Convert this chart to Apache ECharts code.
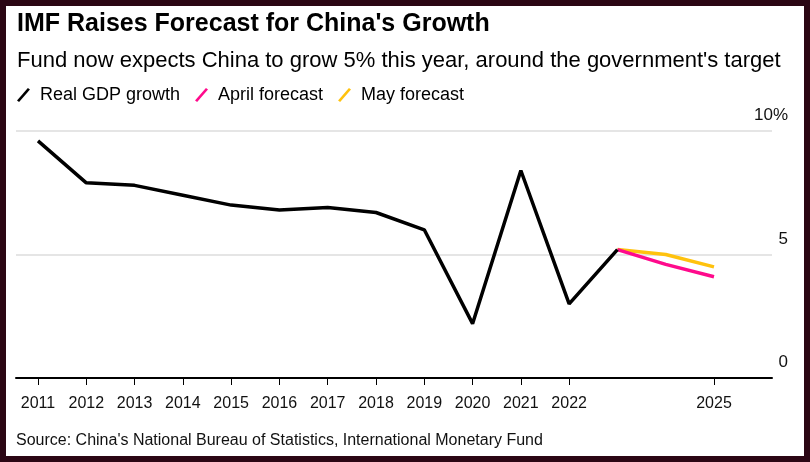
<!DOCTYPE html>
<html>
<head>
<meta charset="utf-8">
<script src="https://cdn.jsdelivr.net/npm/echarts@6/dist/echarts.min.js"></script>
<style>
  html, body { margin: 0; padding: 0; background: #fff; }
  #chart { position: absolute; left: 0; top: 0; width: 810px; height: 462px; background: #fff; }
  #frame { position: absolute; left: 0; top: 0; width: 810px; height: 462px; box-sizing: border-box;
           border: 6px solid #2b0614; pointer-events: none; }
</style>
</head>
<body>
<div id="chart"></div>
<div id="frame"></div>
<script>
    // 年份与数据
    const years = ['2011', '2012', '2013', '2014', '2015', '2016', '2017', '2018',
                   '2019', '2020', '2021', '2022', '2023', '2024', '2025'];
    const realGdp = [9.6, 7.9, 7.8, 7.4, 7.0, 6.8, 6.9, 6.7, 6.0, 2.2, 8.4, 3.0, 5.2, null, null];
    const aprilForecast = [null, null, null, null, null, null, null, null, null, null, null, null, 5.2, 4.6, 4.1];
    const mayForecast = [null, null, null, null, null, null, null, null, null, null, null, null, 5.2, 5.0, 4.5];
    const hiddenYears = ['2023', '2024'];

    const font = '"Liberation Sans", Arial, sans-serif';
    const slash = 'path://M0,12 L10.5,0 L12.5,1.5 L2,13.5 Z';

    const myChart = echarts.init(document.getElementById('chart'));

    const option = {
        backgroundColor: '#fff',
        animation: false,
        textStyle: { fontFamily: font },
        title: [
            {
                text: "IMF Raises Forecast for China's Growth",
                left: 17, top: 12, padding: 0,
                textStyle: { fontSize: 25, fontWeight: 'bold', color: '#000', fontFamily: font }
            },
            {
                text: "Fund now expects China to grow 5% this year, around the government's target",
                left: 17, top: 50, padding: 0,
                textStyle: { fontSize: 22, fontWeight: 'normal', color: '#000', fontFamily: font }
            },
            {
                text: "Source: China's National Bureau of Statistics, International Monetary Fund",
                left: 16, top: 433, padding: 0,
                textStyle: { fontSize: 16, fontWeight: 'normal', color: '#111', fontFamily: font }
            }
        ],
        legend: {
            left: 17, top: 86, padding: 0,
            itemWidth: 13, itemHeight: 14, itemGap: 15,
            textStyle: { fontSize: 18, color: '#000', fontFamily: font, padding: [0, 0, 0, 5] },
            data: [
                { name: 'Real GDP growth', icon: slash },
                { name: 'April forecast', icon: slash },
                { name: 'May forecast', icon: slash }
            ]
        },
        grid: [
            // 外框网格：横线与右侧刻度
            { left: 16, right: 38, top: 131, bottom: 84 },
            // 数据网格
            { left: 38, right: 96, top: 131, bottom: 84 }
        ],
        xAxis: [
            {
                gridIndex: 0, type: 'value', min: 0, max: 1,
                axisLine: { show: true, onZero: false, lineStyle: { color: '#000', width: 2 } },
                axisTick: { show: false }, axisLabel: { show: false }, splitLine: { show: false }
            },
            {
                gridIndex: 1, type: 'category', data: years, boundaryGap: false,
                axisLine: { show: false },
                axisTick: {
                    show: true, length: 7, alignWithLabel: true,
                    interval: (i, v) => hiddenYears.indexOf(v) < 0,
                    lineStyle: { color: '#000', width: 1 }
                },
                axisLabel: {
                    interval: 0, margin: 18, fontSize: 16, color: '#111', fontFamily: font,
                    formatter: v => hiddenYears.indexOf(v) < 0 ? v : ''
                },
                splitLine: { show: false }
            }
        ],
        yAxis: [
            {
                gridIndex: 0, type: 'value', min: 0, max: 10, interval: 5, position: 'right',
                axisLine: { show: false }, axisTick: { show: false },
                axisLabel: {
                    inside: false, margin: 16, align: 'right', verticalAlign: 'bottom',
                    padding: [0, 0, 7, 0],
                    fontSize: 17, color: '#111', fontFamily: font,
                    formatter: v => v === 10 ? '10%' : String(v)
                },
                splitLine: { show: true, lineStyle: { color: '#dcdcdc', width: 1.5 } }
            },
            {
                gridIndex: 1, type: 'value', min: 0, max: 10, interval: 5,
                axisLine: { show: false }, axisTick: { show: false },
                axisLabel: { show: false }, splitLine: { show: false }
            }
        ],
        series: [
            {
                name: 'May forecast', type: 'line', xAxisIndex: 1, yAxisIndex: 1,
                data: mayForecast, symbol: 'none', color: '#ffc20e',
                lineStyle: { width: 3.5, color: '#ffc20e' }
            },
            {
                name: 'April forecast', type: 'line', xAxisIndex: 1, yAxisIndex: 1,
                data: aprilForecast, symbol: 'none', color: '#ff0a8c',
                lineStyle: { width: 3.5, color: '#ff0a8c' }
            },
            {
                name: 'Real GDP growth', type: 'line', xAxisIndex: 1, yAxisIndex: 1,
                data: realGdp, symbol: 'none', color: '#000',
                lineStyle: { width: 3.5, color: '#000' }
            }
        ]
    };

    myChart.setOption(option);
</script>
</body>
</html>
